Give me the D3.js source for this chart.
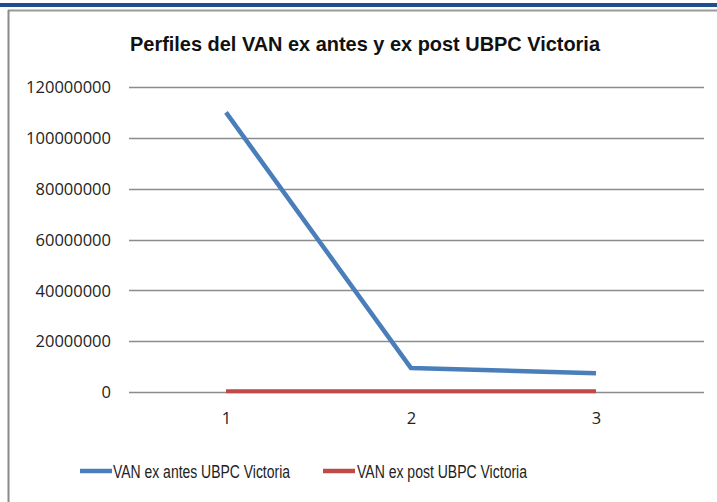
<!DOCTYPE html>
<html>
<head>
<meta charset="utf-8">
<script src="https://cdn.jsdelivr.net/npm/d3@7"></script>
<style>
  html, body { margin: 0; padding: 0; background: #fff; }
  svg { display: block; }
</style>
</head>
<body>
<div id="chart"></div>
<script>
const categories = ["1", "2", "3"];
const exAntes = [110000000, 9400000, 7400000];
const exPost = [300000, 300000, 300000];
const yTicks = [0, 20000000, 40000000, 60000000, 80000000, 100000000, 120000000];
const seriesNames = ["VAN ex antes UBPC Victoria", "VAN ex post UBPC Victoria"];
const titleText = "Perfiles del VAN ex antes y ex post UBPC Victoria";

const W = 717, H = 502;
const svg = d3.select("#chart").append("svg").attr("width", W).attr("height", H);

// window-like frame
svg.append("rect").attr("x", 0).attr("y", 3).attr("width", W).attr("height", 4).attr("fill", "#1f4f8f");
svg.append("line").attr("x1", 8).attr("x2", W).attr("y1", 10.5).attr("y2", 10.5).attr("stroke", "#9a9a9a").attr("stroke-width", 2);
svg.append("line").attr("x1", 8.5).attr("x2", 8.5).attr("y1", 10).attr("y2", H).attr("stroke", "#8a8a8a").attr("stroke-width", 2);

const gridX0 = 129, gridX1 = 704;
const y = d3.scaleLinear().domain([0, 120000000]).range([392, 87]);
const x = d3.scalePoint().domain(categories).range([226, 596]);

// gridlines
svg.append("g").selectAll("line").data(yTicks).join("line")
  .attr("x1", gridX0).attr("x2", gridX1)
  .attr("y1", d => Math.round(y(d)) + 0.5).attr("y2", d => Math.round(y(d)) + 0.5)
  .attr("stroke", "#8c8c8c").attr("stroke-width", 1.4);

// y axis labels
const yAxis = d3.axisLeft(y).tickValues(yTicks).tickSize(0).tickPadding(0).tickFormat(d3.format("d"));
const gy = svg.append("g").attr("transform", `translate(111,0)`).call(yAxis);
gy.select(".domain").remove();
gy.selectAll("text").attr("font-family", "'Open Sans', sans-serif").attr("font-size", 16.5).attr("fill", "#222").attr("dy", "0.35em");

// x axis labels
const xAxis = d3.axisBottom(x).tickSize(0).tickPadding(0);
const gx = svg.append("g").attr("transform", `translate(0,412)`).call(xAxis);
gx.select(".domain").remove();
gx.selectAll("text").attr("font-family", "'Open Sans', sans-serif").attr("font-size", 16.5).attr("fill", "#222").attr("dy", "0.71em");

const line = d3.line().x((d, i) => x(categories[i])).y(d => y(d));

svg.append("path").datum(exPost).attr("d", line).attr("fill", "none")
  .attr("stroke", "#be4b48").attr("stroke-width", 4);
svg.append("path").datum(exAntes).attr("d", line).attr("fill", "none")
  .attr("stroke", "#4a7ebb").attr("stroke-width", 4.5).attr("stroke-linejoin", "round");

// title
svg.append("text").attr("x", 365).attr("y", 51).attr("text-anchor", "middle")
  .attr("font-family", "'Liberation Sans Narrow', 'Liberation Sans', Arial, sans-serif")
  .attr("font-weight", "bold").attr("font-size", 21).attr("fill", "#111")
  .attr("textLength", 470).attr("lengthAdjust", "spacingAndGlyphs")
  .text(titleText);

// legend
const legend = [
  { name: seriesNames[0], color: "#4a7ebb", x: 80, tx: 113, w: 177 },
  { name: seriesNames[1], color: "#be4b48", x: 323, tx: 357, w: 170 }
];
const lg = svg.append("g").selectAll("g").data(legend).join("g");
lg.append("line").attr("x1", d => d.x).attr("x2", d => d.x + 32).attr("y1", 471).attr("y2", 471)
  .attr("stroke", d => d.color).attr("stroke-width", 4.5);
lg.append("text").attr("x", d => d.tx).attr("y", 477.5)
  .attr("font-family", "'Liberation Sans Narrow', 'Liberation Sans', Arial, sans-serif")
  .attr("font-size", 17.5).attr("fill", "#222")
  .attr("textLength", d => d.w).attr("lengthAdjust", "spacingAndGlyphs")
  .text(d => d.name);
</script>
</body>
</html>
